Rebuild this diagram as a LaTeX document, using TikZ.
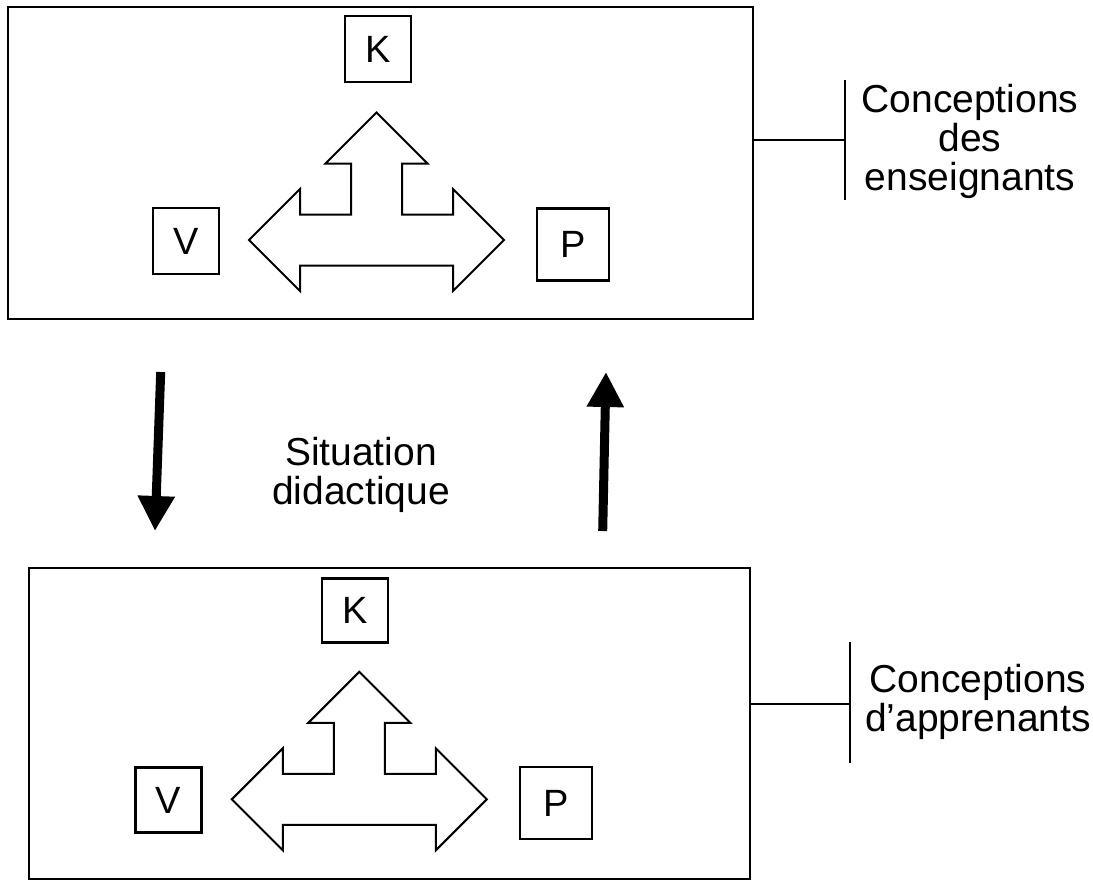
\documentclass[tikz,border=0pt]{standalone}
\usepackage{fontspec}
\setmainfont{Liberation Sans}
\usetikzlibrary{arrows.meta}

\tikzset{every picture/.style={line width=1pt}}
\tikzset{
  frame/.style={draw, line width=1.1pt, inner sep=0pt},
  letterbox/.style={draw, line width=1.1pt, inner sep=0pt, font=\fontsize{19}{19}\selectfont},
  label/.style={align=center, inner sep=0pt, font=\fontsize{19.5}{19.5}\selectfont},
  bigarrow/.style={line width=4.5pt, -{Triangle[width=17.5pt,length=17.5pt]}},
  triarrow/.pic={
    \draw[line width=1pt] (-127.5,0) -- (-76.5,-51) -- (-76.5,-25.5) -- (-25.5,-25.5) -- (-25.5,-76.5) -- (-51,-76.5) -- (0,-127.5) -- (51,-76.5) -- (25.5,-76.5) -- (25.5,-25.5) -- (76.5,-25.5) -- (76.5,-51) -- (127.5,0) -- (76.5,51) -- (76.5,25.5) -- (-76.5,25.5) -- (-76.5,51) -- cycle ;
  }
}

\begin{document}
\begin{tikzpicture}[x=0.5pt,y=-0.5pt]
  \useasboundingbox (0,0) rectangle (1093,880);

  %Frame: teachers
  \node[frame, minimum width=372.5pt, minimum height=156pt] (ens) at (380.5,163) {};
  \node[letterbox, minimum size=33pt] (ensK) at (378,49) {K};
  \node[letterbox, minimum size=33pt] (ensV) at (186,241) {V};
  \node[letterbox, minimum size=36pt] (ensP) at (573,244.5) {P};
  \pic at (376.5,240) {triarrow};

  %Bracket: teachers
  \coordinate (ensB) at (845,140);
  \draw (ens.east |- ensB) -- (ensB) ;
  \draw (845,80) -- (845,200) ;
  \node[label] (ensL) at (970,141) {Conceptions\\des\\enseignants};

  %Frame: learners
  \node[frame, minimum width=360.5pt, minimum height=155.5pt] (app) at (389.5,723.5) {};
  \node[letterbox, minimum width=33pt, minimum height=32pt] (appK) at (355,610.5) {K};
  \node[letterbox, minimum width=33pt, minimum height=32.5pt] (appV) at (168.5,800) {V};
  \node[letterbox, minimum size=36pt] (appP) at (556,803) {P};
  \pic at (359.3,799.3) {triarrow};

  %Bracket: learners
  \coordinate (appB) at (850,704);
  \draw (app.east |- appB) -- (appB) ;
  \draw (850,642) -- (850,763) ;
  \node[label] (appL) at (978,702) {Conceptions\\d’apprenants};

  %Middle arrows
  \coordinate (downS) at (160.7,372);
  \coordinate (downE) at (155,531);
  \coordinate (upS) at (602.7,531);
  \coordinate (upE) at (606,372);
  \draw[bigarrow] (downS) -- (downE) ;
  \draw[bigarrow] (upS) -- (upE) ;
  \node[label] (sit) at (361,475) {Situation\\didactique};
\end{tikzpicture}
\end{document}
